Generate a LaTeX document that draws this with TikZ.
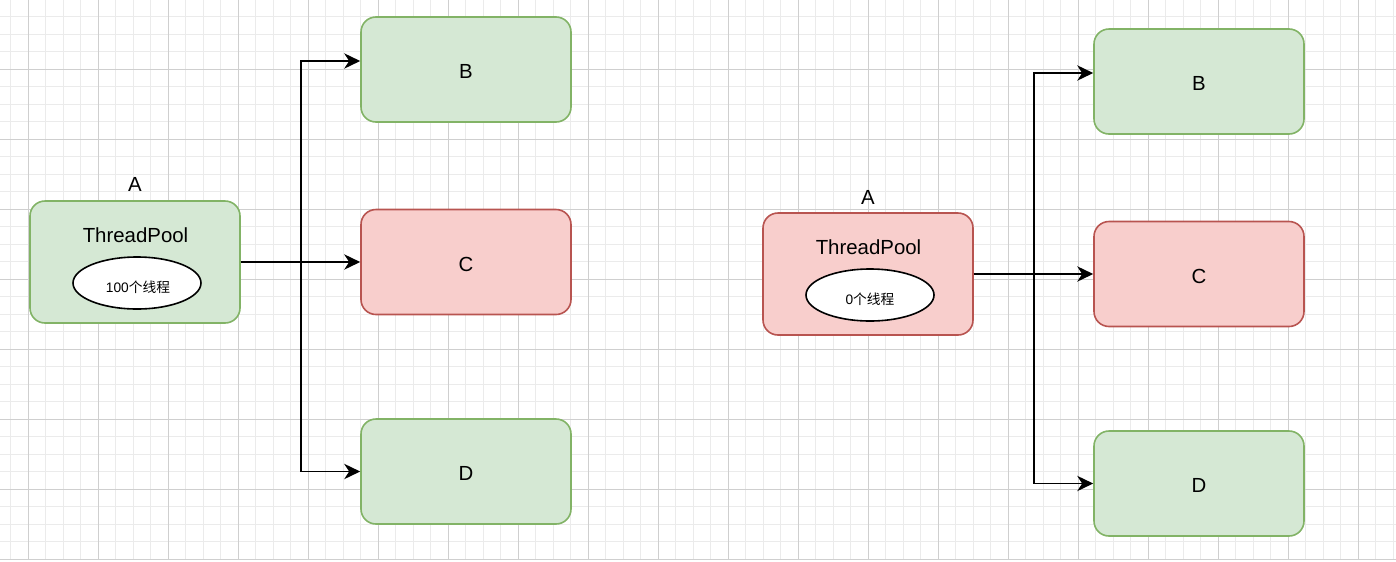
\documentclass[tikz,border=0pt]{standalone}
\usepackage{fontspec}
\setmainfont{Liberation Sans}
\newfontfamily\cjk{Noto Sans CJK SC}
\usetikzlibrary{arrows.meta,shapes.geometric,calc}

\definecolor{okfill}{HTML}{D5E8D4}
\definecolor{okline}{HTML}{82B366}
\definecolor{badfill}{HTML}{F8CECC}
\definecolor{badline}{HTML}{B85450}
\definecolor{gridminor}{HTML}{EBEBEB}
\definecolor{gridmajor}{HTML}{CFCFCF}

\tikzset{
  minorline/.style={gridminor, line width=0.75pt},
  majorline/.style={gridmajor, line width=0.75pt},
  task/.style={rectangle, rounded corners=11.25pt, line width=1.2pt,
    minimum width=157.5pt, minimum height=78.75pt, inner sep=0pt,
    text height=13.7pt, text depth=0pt,
    font=\fontsize{15.3pt}{18pt}\selectfont},
  okbox/.style={task, fill=okfill, draw=okline},
  badbox/.style={task, fill=badfill, draw=badline},
  pool/.style={task, minimum height=91.5pt},
  threads/.style={ellipse, draw=black, fill=white, line width=1.2pt,
    minimum width=96pt, minimum height=39pt, inner sep=0pt},
  caption/.style={inner sep=0pt, font=\fontsize{15.3pt}{18pt}\selectfont},
  small/.style={inner sep=0pt, font=\fontsize{10.3pt}{12pt}\selectfont},
  edge/.style={line width=1.3pt, -{Stealth[length=12pt, width=11.5pt, inset=3.75pt]}},
}

\begin{document}
\begin{tikzpicture}[x=0.75pt, y=-0.75pt]
\useasboundingbox (0,0) rectangle (1396,561);

% background grid
\foreach \i in {0,...,80}
  \draw[minorline] ({-6.7+17.5*\i},0) -- ({-6.7+17.5*\i},559.3);
\foreach \j in {1,...,32}
  \draw[minorline] (0,{-0.7+17.5*\j}) -- (1396,{-0.7+17.5*\j});
\foreach \i in {0,...,19}
  \draw[majorline] ({28.3+70*\i},0) -- ({28.3+70*\i},559.3);
\foreach \j in {0,...,7}
  \draw[majorline] (0,{69.3+70*\j}) -- (1396,{69.3+70*\j});

% left group: pool with 100 threads
\node[okbox, pool] (A1) at (135,262) {};
\node[caption] (A1t) at (135,184.5) {A};
\node[caption] (A1p) at (135.5,235.5) {ThreadPool};
\node[threads] (A1e) at (137,283) {};
\node[small] (A1n) at (138,287.5) {100{\cjk 个线程}};
\node[okbox] (B1) at (466,69.5) {B};
\node[badbox] (C1) at (466,262) {C};
\node[okbox] (D1) at (466,471.5) {D};
\coordinate (B1in) at ($(B1.west)+(0,-8.5)$);

\draw[edge] (A1.east) -- ++(60.3,0) |- (B1in);
\draw[edge] (A1.east) -- (C1.west);
\draw[edge] (A1.east) -- ++(60.3,0) |- (D1.west);

% right group: pool with 0 threads
\node[badbox, pool] (A2) at (868,274) {};
\node[caption] (A2t) at (868,197.5) {A};
\node[caption] (A2p) at (868.5,247.5) {ThreadPool};
\node[threads] (A2e) at (870,295) {};
\node[small] (A2n) at (870,299.5) {0{\cjk 个线程}};
\node[okbox] (B2) at (1199,81.5) {B};
\node[badbox] (C2) at (1199,274) {C};
\node[okbox] (D2) at (1199,483.5) {D};
\coordinate (B2in) at ($(B2.west)+(0,-8.5)$);

\draw[edge] (A2.east) -- ++(60.3,0) |- (B2in);
\draw[edge] (A2.east) -- (C2.west);
\draw[edge] (A2.east) -- ++(60.3,0) |- (D2.west);
\end{tikzpicture}
\end{document}
